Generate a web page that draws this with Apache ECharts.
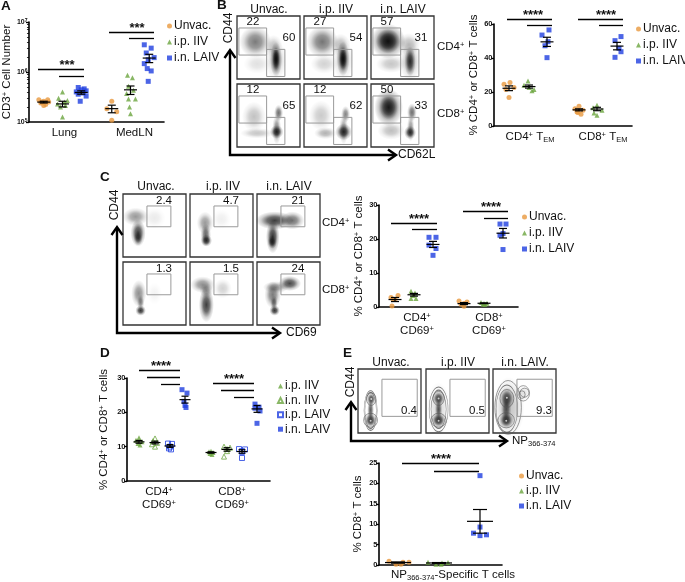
<!DOCTYPE html>
<html><head><meta charset="utf-8">
<style>html,body{margin:0;padding:0;background:#fff}#c{width:685px;height:582px;filter:blur(0.25px)}</style>
<script src="https://cdn.jsdelivr.net/npm/echarts@6/dist/echarts.min.js"></script></head>
<body><div id="c"></div>
<script>
// ---------- DATA: panel A (CD3+ cell number, log scale)
const aLungUnvac=[2.8e5,2.8e5,2.6e5,2.5e5,2.5e5,2.4e5,2.25e5,2.15e5];
const aLungIIV=[4e5,3e5,2.7e5,2.5e5,2.3e5,2.15e5,2e5,1.26e5];
const aLungLAIV=[4.9e5,4.6e5,4.4e5,4.2e5,4e5,3.8e5,3.6e5,3.3e5,2.6e5];
const aMedUnvac=[2.6e5,1.85e5,1.6e5,1.08e5];
const aMedIIV=[8.6e5,7.7e5,5.2e5,4.3e5,3.7e5,2.9e5,2.9e5,2e5,1.47e5];
const aMedLAIV=[35e5,30e5,24e5,19.4e5,17.6e5,14.7e5,11.7e5,10.5e5,6.5e5];
const aMeans=[2.5e5,2.3e5,3.9e5,1.85e5,4.4e5,19e5];
const aSems=[0.1e5,0.3e5,0.3e5,0.32e5,0.85e5,3.6e5];
// panel B (% TEM)
const bCD4Unvac=[25.6,24.6,22.6,21.4,16.7], bCD4IIV=[26.4,24,22.6,21.4,20.7], bCD4LAIV=[56.5,53.5,49.6,47.2,40.2];
const bCD8Unvac=[11.6,10.2,9.3,8.3,6.9,8], bCD8IIV=[12.2,10.8,9.3,7.7,6.3], bCD8LAIV=[52.6,50.2,45.7,43.7,40.4];
const bMeans=[22.2,23.2,49.5,9.5,10,47], bSems=[1.4,0.9,2.7,0.6,1,2.2];
// panel C (% CD69+)
const cCD4Unvac=[3.4,2.8,2.2,2.2,0.3], cCD4IIV=[4.6,4.1,3.4,2.5,2.5], cCD4LAIV=[20.5,20.5,18.2,17.2,15.2];
const cCD8Unvac=[1.8,1.5,1,0.8,0.2], cCD8IIV=[1.3,1.1,1,0.8,0.7], cCD8LAIV=[24.4,24.4,21.6,21.1,16.9];
const cMeans=[2.2,3.6,18.4,1,1.1,21.7], cSems=[0.6,0.4,0.9,0.3,0.1,1.4];
// panel D (% CD69+)
const dCD4ipIIV=[12.6,11.9,11.4,10.9,10.5], dCD4inIIV=[12.4,11.6,11.1,10.7,10], dCD4ipLAIV=[10.9,10.8,10,9.5,9.2], dCD4inLAIV=[26.6,25.6,23.2,22,21.4];
const dCD8ipIIV=[8.7,8.5,8.3,8,7.7], dCD8inIIV=[10,9.7,9.3,8.7,7.1], dCD8ipLAIV=[9.3,9.2,8.7,8.5,6.7], dCD8inLAIV=[22.4,21.5,21.2,20.4,16.8];
const dMeans=[11.4,11.2,10.2,23.7,8.3,9.2,8.6,21], dSems=[0.4,0.4,0.4,1,0.2,0.5,0.5,1];
// panel E (% NP-specific)
const eUnvac=[0.9,0.7,0.7,0.2,0.2], eIIV=[0.7,0.6,0.5,0.2,0.2], eLAIV=[21.9,9.3,7.8,7.4,7.2];
const eMeans=[0.6,0.5,10.7], eSems=[0.15,0.1,2.9];
// tick / category labels
const aCats=['Lung','MedLN'];
const bCats=['{n|CD4}{s|+}{n| T}{b|EM}','{n|CD8}{s|+}{n| T}{b|EM}'];
const cdCats=['{n|CD4}{s|+}\n{n|CD69}{s|+}','{n|CD8}{s|+}\n{n|CD69}{s|+}'];
const eCats=['{n|NP}{b|366-374}{n|-Specific T cells}'];
const flowCols=['Unvac.','i.p. IIV','i.n. LAIV'];
const flowColsE=['Unvac.','i.p. IIV','i.n. LAIV.'];
// horizontal scatter of the dots, pixels about each column
const J={aLU:[-5,4,0,-2,5,-3,2,0],aLI:[0,-4,5,2,-5,3,-2,0],aLL:[-3,3,0,5,-5,2,-3,5,-1],aMU:[0,-5,5,0],aMI:[-3,2,-2,3,-4,-2,5,-1,0],aML:[-5,2,-3,5,-1,-5,-2,2,-1],
 b1:[1,-5,5,-3,0],b2:[-1,-5,0,5,3],b3:[2,-5,1,-2,0],b4:[0,-4,4,-2,2,-1],b5:[0,-4,5,-3,0],b6:[4,-2,2,4,-2],
 c1:[3,-4,0,-2,-3],c2:[-3,1,-1,-3,2],c3:[-4,3,-4,3,0],c4:[-5,3,0,-3,0],c5:[-3,3,0,-1,1],c6:[-3,3,0,-3,0],
 d1:[0,-3,3,-1,1],d2:[0,-2,2,-3,0],d3:[-2,2,0,-1,1],d4:[-3,2,-1,0,1],d5:[0,-2,2,-1,1],d6:[-3,3,0,0,-3],d7:[-3,3,0,0,0],d8:[-2,2,-2,3,0],
 e1:[-9,11,5,-2,3],e2:[-11,9,3,-3,2],e3:[0,0,-6.5,6.5,0]};

// flow-cytometry density clouds: [x%, y%, w%, h%, density] of each plot
const fB=[
 [[29,41,42,42,.65],[62,69,16,46,1],[62,68,9,30,.9],[58,48,24,30,.28],[32,76,36,26,.15],[62,70,28,52,.28]],
 [[29,41,42,42,.68],[62,68,17,46,1],[62,68,10,30,.9],[58,46,26,30,.32],[32,76,36,26,.22],[62,70,28,52,.28]],
 [[27,40,46,46,1],[27,40,32,32,.85],[62,72,15,40,1],[62,72,28,52,.35],[32,76,40,24,.28],[60,45,30,30,.32]],
 [[27,52,32,40,.3],[63,76,18,18,1],[66,46,12,22,.7],[63,72,12,40,.6],[32,78,45,14,.28]],
 [[27,50,32,40,.26],[63,76,22,22,1],[66,48,12,22,.6],[63,72,12,40,.5],[34,78,30,16,.38]],
 [[28,37,38,50,.95],[28,37,24,32,.75],[62,77,16,18,1],[65,45,13,24,.7],[63,70,10,36,.5],[32,74,36,24,.32]]];
const fC=[
 [[24,62,20,36,.95],[24,70,12,20,.7],[20,36,34,24,.5],[50,38,30,28,.1]],
 [[26,74,15,16,1],[25,65,14,30,.75],[24,46,22,30,.5],[50,40,26,26,.08]],
 [[25,68,18,44,1],[28,42,50,24,.95],[56,42,32,24,.7],[24,76,12,18,.85]],
 [[28,77,14,14,1],[25,50,20,36,.55],[28,64,10,20,.55],[50,50,20,30,.06]],
 [[26,68,20,46,.95],[20,36,32,22,.55],[52,42,24,26,.22],[26,45,18,20,.45]],
 [[28,77,14,14,1],[25,52,22,36,.65],[52,34,30,20,.9],[30,40,34,16,.5],[27,65,10,20,.65]]];
const fE=[
 [[21,47,13,18,.9],[20,80,17,20,1],[20,64,9,30,.8]],
 [[20,46,17,20,.9],[20,80,20,20,1],[20,63,10,30,.8],[20,62,32,70,.18]],
 [[22,46,20,28,.9],[21,80,20,22,1],[21,63,14,32,.8],[25,60,42,80,.3],[48,38,18,20,.15]]];
// contour rings in panel E: [x%, y%, w%, h%]
const ringsE=[
 [[21,47,15,20],[20,80,22,22],[20,65,18,56],[20,65,21,62]],
 [[20,46,18,22],[20,80,24,22],[20,63,24,60],[20,63,30,70]],
 [[22,46,22,28],[21,80,26,24],[22,62,34,74],[24,60,42,84],[48,38,20,24],[50,37,14,14],[46,40,10,12]]];
const ringCentresE=[[[21,47],[20,81]],[[20,46],[20,81]],[[22,45],[21,81]]];
// percentages printed on the plots
const lB=['22','60','27','54','57','31','12','65','12','62','50','33'];
const lC=['2.4','4.7','21','1.3','1.5','24'];
const lE=['0.4','0.5','9.3'];

// ---------- STYLE
const FONT='"Liberation Sans",Arial,sans-serif';
const ORG='#E8993F',GRN='#6BA53E',BLU='#1F3FE0';
const richT={n:{fontSize:11.5,fontFamily:FONT,color:'#111',lineHeight:12.5},s:{fontSize:7.5,fontFamily:FONT,color:'#111',padding:[0,0,4,0]},b:{fontSize:7.5,fontFamily:FONT,color:'#111',padding:[0,0,-5,0]}};
const STY={'Unvac.':['circle',ORG,false],'i.p. IIV':['triangle',GRN,false],'i.n. LAIV':['rect',BLU,false],'i.n. IIV':['triangle',GRN,true],'i.p. LAIV':['rect',BLU,true]};
const grids=[],xAxes=[],yAxes=[],series=[],legends=[],graphic=[];

function chart(o){
 const g=grids.length;
 grids.push({left:o.l,top:o.t,width:o.w,height:o.h});
 xAxes.push({gridIndex:g,type:'value',min:0,max:o.w,splitLine:{show:false},axisLine:{show:true,onZero:false,lineStyle:{color:'#000',width:1.6}},axisTick:{show:false},
  axisLabel:{customValues:o.catX,formatter:v=>o.cats[o.catX.indexOf(v)],margin:o.lm||5,interval:0,hideOverlap:false,rich:richT,fontFamily:FONT,fontSize:11.5,color:'#111',lineHeight:12.5}});
 const y={gridIndex:g,min:o.min,max:o.max,splitLine:{show:false},axisLine:{show:true,lineStyle:{color:'#000',width:1.6}},axisTick:{show:true,length:3,lineStyle:{color:'#000',width:1.3}},
  axisLabel:{fontFamily:FONT,fontWeight:'bold',fontSize:7.5,color:'#111',margin:1.5,hideOverlap:false,showMinLabel:true,showMaxLabel:true},
  name:o.yName,nameLocation:'middle',nameGap:o.nameGap,nameRotate:90,nameTextStyle:{rich:richT,fontFamily:FONT,fontSize:11.5,color:'#111'}};
 if(o.log){y.type='log';y.logBase=10;y.minorTick={show:true,splitNumber:9,length:2,lineStyle:{color:'#000',width:.8}};
  y.axisLabel.formatter=v=>'{b|10}{s|'+Math.round(Math.log10(v))+'}';y.axisLabel.rich={b:{fontSize:7,fontWeight:'bold',fontFamily:FONT},s:{fontSize:5,fontWeight:'bold',fontFamily:FONT,padding:[0,0,3,0]}};}
 else{y.type='value';y.interval=o.int;}
 yAxes.push(y);
 o.dots.forEach(d=>{const s=STY[d[0]];
  series.push({type:'scatter',name:d[0],xAxisIndex:g,yAxisIndex:g,symbol:s[0],symbolSize:5,clip:false,z:2,
   itemStyle:s[2]?{color:'rgba(255,255,255,0)',borderColor:s[1],borderWidth:1}:{color:s[1]},
   data:d[2].map((v,i)=>[o.slots[d[1]]+d[3][i],v])});});
 series.push({type:'custom',xAxisIndex:g,yAxisIndex:g,z:3,silent:true,clip:false,encode:{x:0,y:1},
  data:o.means.map((m,i)=>[o.slots[i],m,o.sems[i]]),
  renderItem:(p,api)=>{const x=api.value(0),m=api.value(1),e=api.value(2),L={stroke:'#000',lineWidth:1.2};
   const c=api.coord([x,m]),u=api.coord([x,m+e]),d=api.coord([x,m-e]),hm=o.hm||6.5,hc=o.hc||4;
   const ln=(a,b,c2,d2)=>({type:'line',shape:{x1:a,y1:b,x2:c2,y2:d2},style:L});
   return {type:'group',children:[ln(c[0]-hm,c[1],c[0]+hm,c[1]),ln(c[0],u[1],c[0],d[1]),ln(c[0]-hc,u[1],c[0]+hc,u[1]),ln(c[0]-hc,d[1],c[0]+hc,d[1])]};}});
 legends.push({show:true,orient:'vertical',left:o.leg[0],top:o.leg[1],itemWidth:5,itemHeight:5,itemGap:o.leg[2],selectedMode:false,padding:0,
  data:o.legNames,textStyle:{fontFamily:FONT,fontSize:12,color:'#111',padding:[0,0,0,-3]}});
}
// annotation helpers (pixels)
function rule(x1,x2,y){graphic.push({type:'line',shape:{x1,y1:y+.5,x2,y2:y+.5},style:{stroke:'#000',lineWidth:1.3}});}
function stars(x,y,t){graphic.push({type:'text',x,y,style:{text:t,font:'bold 13px '+FONT,fill:'#111',textAlign:'center',textVerticalAlign:'middle'}});}
function txt(x,y,t,o={}){graphic.push({type:'text',x,y,rotation:o.rot||0,style:{text:t,font:(o.w||'normal')+' '+(o.s||11.5)+'px '+FONT,fill:'#111',textAlign:o.a||'center',textVerticalAlign:'middle',rich:o.rich}});}
function arrow(x,y0,yTop,xEnd){
 const st={stroke:'#000',lineWidth:2.4,fill:null};
 graphic.push({type:'polyline',shape:{points:[[x,yTop+1],[x,y0],[xEnd-1,y0]]},style:st});
 graphic.push({type:'polyline',shape:{points:[[x-5.5,yTop+8],[x,yTop],[x+5.5,yTop+8]]},style:st});
 graphic.push({type:'polyline',shape:{points:[[xEnd-8,y0-5.5],[xEnd,y0],[xEnd-8,y0+5.5]]},style:st});
}
function flow(l,t,w,h,blobs,rings,centres){
 const g=grids.length;
 grids.push({left:l,top:t,width:w,height:h,show:true,borderColor:'#333',borderWidth:1.3,backgroundColor:'#fff'});
 xAxes.push({gridIndex:g,type:'value',min:0,max:100,show:false});
 yAxes.push({gridIndex:g,type:'value',min:0,max:100,inverse:true,show:false});
 series.push({type:'scatter',xAxisIndex:g,yAxisIndex:g,z:1,silent:true,clip:true,data:blobs.map(b=>({value:[b[0],b[1]],symbolSize:[b[2]*w/100*1.2,b[3]*h/100*1.2],
  itemStyle:{color:{type:'radial',x:.5,y:.5,r:.5,colorStops:[{offset:0,color:'rgba(0,0,0,'+b[4]+')'},{offset:.4,color:'rgba(0,0,0,'+b[4]*.75+')'},{offset:.72,color:'rgba(0,0,0,'+b[4]*.25+')'},{offset:1,color:'rgba(0,0,0,0)'}]}}}))});
 if(rings)series.push({type:'scatter',xAxisIndex:g,yAxisIndex:g,z:1,silent:true,clip:true,data:rings.map(b=>({value:[b[0],b[1]],symbolSize:[b[2]*w/100,b[3]*h/100],
  itemStyle:{color:'rgba(0,0,0,0)',borderColor:'#555',borderWidth:.7}}))});
 if(centres)series.push({type:'scatter',xAxisIndex:g,yAxisIndex:g,z:1,silent:true,clip:true,symbolSize:2,itemStyle:{color:'#eee'},data:centres});
}
function gate(l,t,w,h,x1,y1,x2,y2){graphic.push({type:'rect',z:5,shape:{x:l+x1*w/100,y:t+y1*h/100,width:(x2-x1)*w/100,height:(y2-y1)*h/100},style:{fill:null,stroke:'#9a9a9a',lineWidth:1}});}

// ---------- BUILD: dot plots
const L3=['Unvac.','i.p. IIV','i.n. LAIV'];
const yNameBoth='{n|% CD4}{s|+}{n| or CD8}{s|+}{n| T cells}';
chart({l:27,t:22,w:137,h:100,log:true,min:1e5,max:1e7,yName:'{n|CD3}{s|+}{n| Cell Number}',nameGap:15,slots:[15,34,53,84,103,122],catX:[36,107],cats:aCats,
 means:aMeans,sems:aSems,legNames:L3,leg:[167,20,4],
 dots:[['Unvac.',0,aLungUnvac,J.aLU],['i.p. IIV',1,aLungIIV,J.aLI],['i.n. LAIV',2,aLungLAIV,J.aLL],['Unvac.',3,aMedUnvac,J.aMU],['i.p. IIV',4,aMedIIV,J.aMI],['i.n. LAIV',5,aMedLAIV,J.aML]]});
chart({l:494,t:24,w:138,h:102,min:0,max:60,int:20,yName:yNameBoth,nameGap:14,slots:[15,35,53,85,103,123],catX:[36,109],cats:bCats,means:bMeans,sems:bSems,legNames:L3,leg:[636,23,4],
 dots:[['Unvac.',0,bCD4Unvac,J.b1],['i.p. IIV',1,bCD4IIV,J.b2],['i.n. LAIV',2,bCD4LAIV,J.b3],['Unvac.',3,bCD8Unvac,J.b4],['i.p. IIV',4,bCD8IIV,J.b5],['i.n. LAIV',5,bCD8LAIV,J.b6]]});
chart({l:379,t:205,w:139,h:102,min:0,max:30,int:10,yName:yNameBoth,nameGap:11,slots:[16,35,54,85,105,124],catX:[38,110],cats:cdCats,means:cMeans,sems:cSems,legNames:L3,leg:[522,211,4],
 dots:[['Unvac.',0,cCD4Unvac,J.c1],['i.p. IIV',1,cCD4IIV,J.c2],['i.n. LAIV',2,cCD4LAIV,J.c3],['Unvac.',3,cCD8Unvac,J.c4],['i.p. IIV',4,cCD8IIV,J.c5],['i.n. LAIV',5,cCD8LAIV,J.c6]]});
chart({l:127,t:378,w:143,h:103,min:0,max:30,int:10,yName:yNameBoth,nameGap:17,slots:[12,28,43,58,84,100,115,130],catX:[32,105],cats:cdCats,means:dMeans,sems:dSems,hm:5.5,hc:3.5,legNames:['i.p. IIV','i.n. IIV','i.p. LAIV','i.n. LAIV'],leg:[277,380,2.4],
 dots:[['i.p. IIV',0,dCD4ipIIV,J.d1],['i.n. IIV',1,dCD4inIIV,J.d2],['i.p. LAIV',2,dCD4ipLAIV,J.d3],['i.n. LAIV',3,dCD4inLAIV,J.d4],['i.p. IIV',4,dCD8ipIIV,J.d5],['i.n. IIV',5,dCD8inIIV,J.d6],['i.p. LAIV',6,dCD8ipLAIV,J.d7],['i.n. LAIV',7,dCD8inLAIV,J.d8]]});
chart({l:379,t:463,w:123,h:102,min:0,max:25,int:5,yName:'{n|% CD8}{s|+}{n| T cells}',nameGap:15,slots:[19,60,101],catX:[74],cats:eCats,means:eMeans,sems:eSems,hm:13,hc:7,legNames:L3,leg:[519,470,3],lm:4,
 dots:[['Unvac.',0,eUnvac,J.e1],['i.p. IIV',1,eIIV,J.e2],['i.n. LAIV',2,eLAIV,J.e3]]});

// ---------- BUILD: flow plots
const bx=[237,304,371],by=[16,84],cx=[123,190,257],cy=[194,262],ex=[358,426,493];
const lbx=[52,52,50];
let k=0;
by.forEach((ty,r)=>bx.forEach((lx,c)=>{
 flow(lx,ty,63,63,fB[k]);
 gate(lx,ty,63,63,3,19,47,62);gate(lx,ty,63,63,47,53,76,96);
 txt(lx+16,ty+6,lB[2*k]);txt(lx+lbx[c],ty+22,lB[2*k+1]);k++;}));
k=0;
cy.forEach(ty=>cx.forEach(lx=>{
 flow(lx,ty,63,63,fC[k]);gate(lx,ty,63,63,38,19,76,52);txt(lx+41,ty+7,lC[k]);k++;}));
ex.forEach((lx,i)=>{flow(lx,369,63,64,fE[i],ringsE[i],ringCentresE[i]);gate(lx,369,63,64,38,16,94,74);txt(lx+51,369+42,lE[i]);});

// ---------- ANNOTATIONS
[[1,'A',6],[217,'B',5],[100,'C',177],[100,'D',353],[343,'E',353]].forEach(p=>txt(p[0],p[2],p[1],{w:'bold',s:13.5,a:'left'}));
rule(38,84,69);rule(59,84,76);stars(67,65,'***');rule(109,154,32);rule(129,154,38);stars(137,28,'***');
rule(507,552,19);rule(527,552,25);stars(533,15,'****');rule(578,623,19);rule(599,623,25);stars(606,15,'****');
rule(391,437,223);rule(412,437,229);stars(419,219,'****');rule(463,508,211);rule(484,508,218);stars(491,207,'****');
rule(139,180,370);rule(147,180,377);rule(161,180,384);stars(161,366,'****');rule(213,254,383);rule(221,254,390);rule(234,254,397);stars(234,379,'****');
rule(402,479,463);rule(434,479,471);stars(441,459,'****');
const sup={a:{fontSize:7.5,fontFamily:FONT,padding:[0,0,4,0]},n:{fontSize:11.5,fontFamily:FONT},b:{fontSize:7.5,fontFamily:FONT,padding:[0,0,-5,0]}};
// B
arrow(230,155,50,396);
txt(229,28,'CD44',{rot:Math.PI/2,s:12});txt(398,155,'CD62L',{a:'left',s:12});
[269,336,403].forEach((x,i)=>txt(x,10,flowCols[i],{s:12}));
txt(437,47,'{n|CD4}{a|+}',{a:'left',rich:sup});txt(437,114,'{n|CD8}{a|+}',{a:'left',rich:sup});
// C
arrow(117,333,227,280);
txt(115,205,'CD44',{rot:Math.PI/2,s:12});txt(286,333,'CD69',{a:'left',s:12});
[156,223,289].forEach((x,i)=>txt(x,187,flowCols[i],{s:12}));
txt(322,223,'{n|CD4}{a|+}',{a:'left',rich:sup});txt(322,290,'{n|CD8}{a|+}',{a:'left',rich:sup});
// E
arrow(351,441,402,507);
txt(351,382,'CD44',{rot:Math.PI/2,s:12});txt(512,441,'{n|NP}{b|366-374}',{a:'left',rich:sup});
[391,458,525].forEach((x,i)=>txt(x,363,flowColsE[i],{s:12}));

const ch=echarts.init(document.getElementById('c'),null,{renderer:'canvas',width:685,height:582});
ch.setOption({animation:false,backgroundColor:'#fff',textStyle:{fontFamily:FONT},tooltip:{show:false},grid:grids,xAxis:xAxes,yAxis:yAxes,series,legend:legends,graphic:{elements:graphic}});
</script></body></html>
